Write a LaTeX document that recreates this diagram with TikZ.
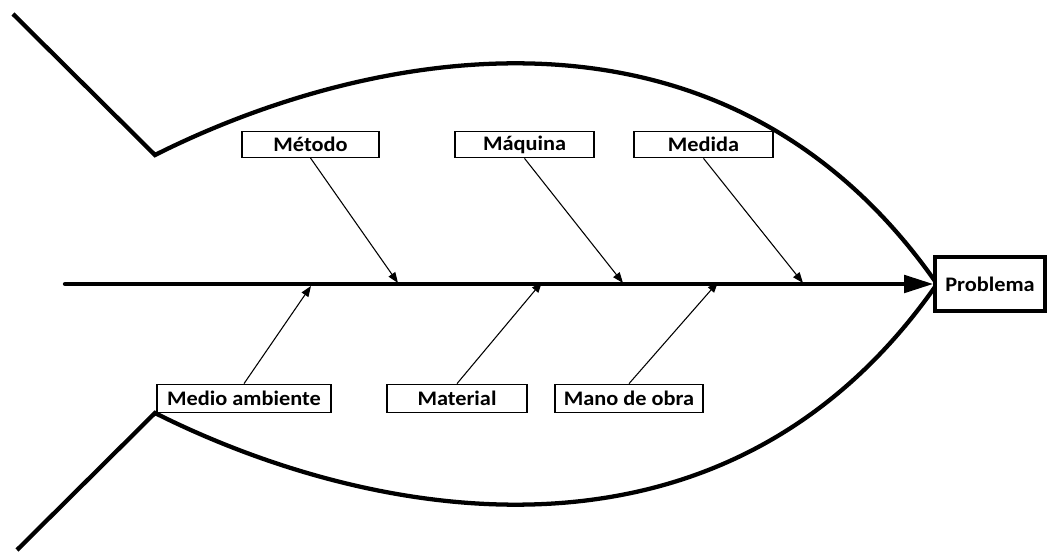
\documentclass[tikz,border=0pt]{standalone}
\usepackage{fontspec}
\newfontfamily\lbl{Carlito}[FakeStretch=1.08]
\usetikzlibrary{arrows.meta,backgrounds}
\begin{document}
\begin{tikzpicture}[x=0.75pt,y=-0.75pt,
  cause/.style={draw, line width=0.8pt, fill=white, inner sep=0pt,
    font=\lbl\bfseries\fontsize{15.5}{17}\selectfont},
  causearrow/.style={line width=0.8pt, -{Triangle[length=8pt,width=6pt]}},
  bone/.style={line width=3.2pt},
  probbox/.style={draw, line width=3pt, fill=white, inner sep=0pt,
    minimum width=82pt, minimum height=41pt,
    font=\lbl\bfseries\fontsize{15.5}{17}\selectfont}]
\useasboundingbox (0,0) rectangle (1047,552);

% effect
\node[probbox] (prob) at (990,284) {Problema};

% causes
\node[cause, minimum width=102.75pt, minimum height=19.5pt] (metodo) at (310.5,144.5) {Método};
\node[cause, minimum width=104.25pt, minimum height=20pt] (maquina) at (524.5,144.5) {Máquina};
\node[cause, minimum width=104.25pt, minimum height=20pt] (medida) at (703.5,144.5) {Medida};
\node[cause, minimum width=130.5pt, minimum height=21.5pt] (medio) at (244,398.5) {Medio ambiente};
\node[cause, minimum width=105pt, minimum height=21.5pt] (material) at (457,398.5) {Material};
\node[cause, minimum width=111pt, minimum height=21.5pt] (mano) at (629,398.5) {Mano de obra};

% points on the spine
\coordinate (t1) at (398,283);
\coordinate (t2) at (623,283);
\coordinate (t3) at (803,283);
\coordinate (b1) at (311,286);
\coordinate (b2) at (542,282);
\coordinate (b3) at (718,282);
\coordinate (tail) at (65,284);
\coordinate (head) at (937,284);

\begin{scope}[on background layer]
\draw[bone, line join=miter] (13,14) -- (155,155)
  .. controls (360,52) and (720,-28) .. (head)
  .. controls (720,596) and (360,516) .. (155,413) -- (17,550);
\draw[bone, line cap=round, -{Triangle[length=22pt,width=13pt]}] (tail) -- (prob.west);
\end{scope}

\draw[causearrow] (metodo.south) -- (t1);
\draw[causearrow] (maquina.south) -- (t2);
\draw[causearrow] (medida.south) -- (t3);
\draw[causearrow] (medio.north) -- (b1);
\draw[causearrow] (material.north) -- (b2);
\draw[causearrow] (mano.north) -- (b3);
\end{tikzpicture}
\end{document}
